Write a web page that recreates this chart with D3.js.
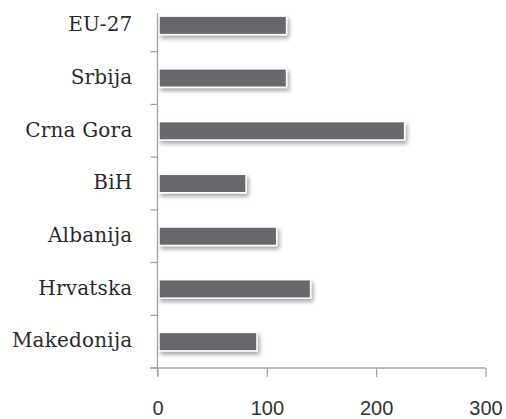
<!DOCTYPE html>
<html>
<head>
<meta charset="utf-8">
<script src="https://cdn.jsdelivr.net/npm/d3@7"></script>
<style>
  html, body { margin: 0; padding: 0; background: #fff; }
  svg { display: block; }
</style>
</head>
<body>
<div id="chart"></div>
<script>
// Categories, top to bottom
const categories = ["EU-27", "Srbija", "Crna Gora", "BiH", "Albanija", "Hrvatska", "Makedonija"];
// Values per category
const values = [118, 118, 226, 81, 109, 140, 91];
// X axis ticks
const xTicks = [0, 100, 200, 300];

const W = 506, H = 419;
const svg = d3.select("#chart").append("svg")
  .attr("width", W).attr("height", H);

const defs = svg.append("defs");
const f = defs.append("filter").attr("id", "shadow")
  .attr("x", "-10%").attr("y", "-40%").attr("width", "130%").attr("height", "200%");
f.append("feDropShadow")
  .attr("dx", 2).attr("dy", 3).attr("stdDeviation", 2)
  .attr("flood-color", "#000").attr("flood-opacity", 0.35);

const x = d3.scaleLinear().domain([0, 300]).range([157.5, 485.5]);
const y = d3.scaleBand().domain(categories).range([-1, 368])
  .paddingInner(0.65).paddingOuter(0.325);

const axisColor = "#a3a3a3";

// Bars
svg.append("g").selectAll("rect")
  .data(categories)
  .join("rect")
  .attr("x", x(0) + 1.5)
  .attr("y", d => y(d))
  .attr("width", (d, i) => x(values[i]) - x(0) - 1.5)
  .attr("height", y.bandwidth())
  .attr("fill", "#67686c")
  .attr("stroke", "#fff")
  .attr("stroke-width", 1.5)
  .attr("filter", "url(#shadow)");

// Category axis: labels
const yAxis = svg.append("g")
  .attr("transform", `translate(${x(0)},0)`)
  .call(d3.axisLeft(y).tickSize(0).tickPadding(25));
yAxis.select(".domain").remove();
yAxis.selectAll("text")
  .attr("dy", "0.29em")
  .style("font-family", "'DejaVu Serif', serif")
  .style("font-size", "20px")
  .style("letter-spacing", "0.2px")
  .attr("fill", "#2a2a2a");

// Category axis: line and boundary ticks
const step = y.step();
const r0 = y.range()[0];
const bottom = y.range()[1];
const yLines = svg.append("g").attr("stroke", axisColor).attr("stroke-width", 1.3);
yLines.append("line")
  .attr("x1", x(0)).attr("x2", x(0))
  .attr("y1", 13).attr("y2", bottom + 8);
yLines.selectAll("line.b")
  .data(d3.range(1, categories.length + 1))
  .join("line").attr("class", "b")
  .attr("x1", x(0) - 7).attr("x2", x(0))
  .attr("y1", i => r0 + i * step).attr("y2", i => r0 + i * step);

// Value axis
const xAxis = svg.append("g")
  .attr("transform", `translate(0,${bottom})`)
  .call(d3.axisBottom(x).tickValues(xTicks).tickSize(9).tickSizeOuter(0).tickPadding(0));
xAxis.select(".domain").remove();
xAxis.selectAll(".tick line").attr("stroke", axisColor).attr("stroke-width", 1.3);
xAxis.selectAll("text")
  .attr("y", 47).attr("dy", 0)
  .style("font-family", "'Liberation Sans', Arial, sans-serif")
  .style("font-size", "20px")
  .attr("fill", "#333");
svg.append("line")
  .attr("x1", x(0) - 7).attr("x2", x(300))
  .attr("y1", bottom).attr("y2", bottom)
  .attr("stroke", axisColor).attr("stroke-width", 1.3);
</script>
</body>
</html>
